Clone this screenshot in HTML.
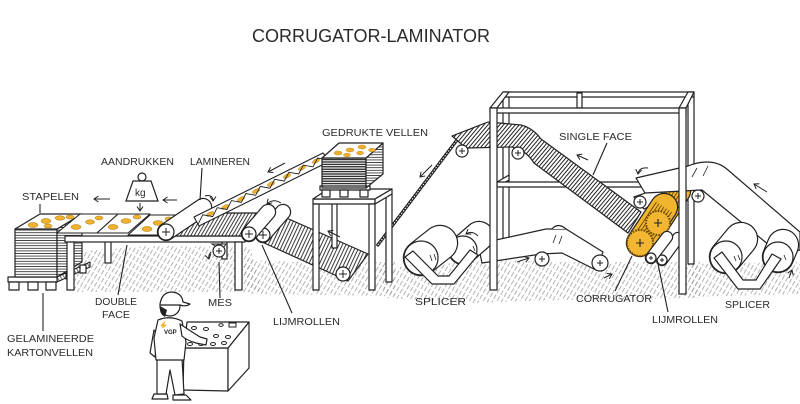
<!DOCTYPE html>
<html><head><meta charset="utf-8"><title>Corrugator-Laminator</title>
<style>
html,body{margin:0;padding:0;background:#fff;width:800px;height:404px;overflow:hidden}
svg{display:block}
text{font-family:"Liberation Sans",sans-serif;fill:#2b2b2b}
</style></head><body>
<svg xmlns="http://www.w3.org/2000/svg" width="800" height="404" viewBox="0 0 800 404">
<defs>
<pattern id="gr" width="4" height="7" patternUnits="userSpaceOnUse" patternTransform="rotate(30)"><line x1="1" y1="0" x2="1" y2="5" stroke="#9a9a9a" stroke-width="0.75"/></pattern>
<pattern id="st" width="3" height="3" patternUnits="userSpaceOnUse" patternTransform="rotate(40)"><rect width="3" height="3" fill="#fff"/><line x1="1" y1="0" x2="1" y2="3" stroke="#222" stroke-width="1"/></pattern>
<pattern id="st2" width="3" height="3" patternUnits="userSpaceOnUse" patternTransform="rotate(30)"><rect width="3" height="3" fill="#fff"/><line x1="1" y1="0" x2="1" y2="3" stroke="#222" stroke-width="0.9"/></pattern>
<pattern id="st3" width="3.2" height="3" patternUnits="userSpaceOnUse" patternTransform="rotate(25)"><rect width="3.2" height="3" fill="#fff"/><line x1="1" y1="0" x2="1" y2="3" stroke="#222" stroke-width="0.9"/></pattern>
<pattern id="hz" width="4" height="2.6" patternUnits="userSpaceOnUse"><rect width="4" height="2.6" fill="#fff"/><line x1="0" y1="1.3" x2="4" y2="1.3" stroke="#222" stroke-width="0.8"/></pattern>
<pattern id="hz2" width="4" height="2.4" patternUnits="userSpaceOnUse"><rect width="4" height="2.4" fill="#fff"/><line x1="0" y1="1.2" x2="4" y2="1.2" stroke="#111" stroke-width="1.2"/></pattern>
<pattern id="dg" width="3" height="3" patternUnits="userSpaceOnUse" patternTransform="rotate(-30)"><rect width="3" height="3" fill="#fff"/><line x1="1" y1="0" x2="1" y2="3" stroke="#444" stroke-width="0.8"/></pattern>
<marker id="ah" markerWidth="7" markerHeight="7" refX="5" refY="3.5" orient="auto" markerUnits="userSpaceOnUse"><path d="M0.5,0.5 L5,3.5 L0.5,6.5" fill="none" stroke="#222" stroke-width="1"/></marker>
</defs>

<!-- title -->
<text x="252" y="42" font-size="18" textLength="238" lengthAdjust="spacingAndGlyphs">CORRUGATOR-LAMINATOR</text>

<!-- ground hatching -->
<g fill="url(#gr)">
<polygon points="70,252 150,246 250,247 262,292 75,292"/>
<polygon points="240,260 300,262 395,262 395,296 250,294"/>
<polygon points="380,268 500,260 560,262 700,262 700,298 560,300 470,303 385,298"/>
<polygon points="690,264 800,262 800,294 690,297"/>
</g>

<g stroke="#222" stroke-width="1.2" fill="#fff" stroke-linejoin="round">
<!-- frame back -->
<rect x="688" y="96" width="6" height="168"/>
<rect x="503" y="96" width="6" height="150"/>
<rect x="503" y="92" width="191" height="5"/>
<polygon points="490,108 503,92 509,92 497,108"/>
<polygon points="679,108 688,92 694,92 686,108"/>
<rect x="577" y="93" width="5" height="15"/>
<rect x="490" y="108" width="196" height="5"/>
<polygon points="497,182 509,175 509,180 497,187"/>
<rect x="497" y="182" width="182" height="5"/>
</g>

<!-- thin web going down-left -->
<line x1="460" y1="136" x2="377" y2="246" stroke="#222" stroke-width="3.2"/>
<line x1="460" y1="136" x2="377" y2="246" stroke="#fff" stroke-width="1" stroke-dasharray="1.5 1.5"/>

<g stroke="#222" stroke-width="1.2" stroke-linejoin="round">
<!-- single face band -->
<path d="M452,136 L488,122 L521,125 Q533,128 541,139 L641,212 L628,233 L534,163 Q526,150 512,147 L466,148 Z" fill="url(#st)"/>
<!-- web from splicer to corrugator -->
<polygon points="478,244 546,229 566,229 603,252 596,270 562,253 541,254 482,263" fill="#fff"/>
<path d="M552,229 Q558,222 566,229" fill="#fff"/>
<path d="M556,235 l-3,8 M562,236 l-3,8" fill="none" stroke-width="0.8"/>
</g>
<g fill="#fff" stroke="#222" stroke-width="1.2">
<circle cx="462" cy="151" r="6"/><circle cx="518" cy="153" r="6"/>
<circle cx="542" cy="259" r="7"/><circle cx="600" cy="263" r="8"/>
</g>
<path d="M459,151h6M462,148v6 M515,153h6M518,150v6 M539,259h6M542,256v6 M597,263h6M600,260v6" stroke="#222" stroke-width="1"/>

<!-- splicer 1 -->
<line x1="463" y1="250" x2="479" y2="236" stroke="#222" stroke-width="30.4" stroke-linecap="round"/>
<line x1="463" y1="250" x2="479" y2="236" stroke="#fff" stroke-width="28" stroke-linecap="round"/>
<circle cx="463" cy="250" r="14" fill="#fff" stroke="#222" stroke-width="1.2"/>
<line x1="421" y1="258" x2="440" y2="243" stroke="#222" stroke-width="36.4" stroke-linecap="round"/>
<line x1="421" y1="258" x2="440" y2="243" stroke="#fff" stroke-width="34" stroke-linecap="round"/>
<circle cx="421" cy="258" r="17" fill="#fff" stroke="#222" stroke-width="1.2"/>
<path d="M478,236 q-6,-6 -12,-2" fill="none" stroke="#222" stroke-width="1" marker-end="url(#ah)"/>
<polygon points="405,257 413,251 438,276 449,276 470,250 478,255 454,284 432,284" fill="#fff" stroke="#222" stroke-width="1.2" stroke-linejoin="round"/>
<path d="M430,255 l2,6 M434,254 l2,6 M473,246 l2,5" stroke="#222" stroke-width="0.8"/>

<!-- corrugator -->
<g stroke="#222" stroke-width="1.2">
<polygon points="634,197 668,185 678,192 644,209" fill="#fff"/>
<circle cx="640" cy="202" r="6" fill="#fff"/>
</g>
<path d="M637,202h6M640,199v6" stroke="#222"/>
<line x1="658" y1="222" x2="678" y2="191" stroke="#222" stroke-width="26.4" stroke-linecap="round"/>
<line x1="658" y1="222" x2="678" y2="191" stroke="#f1b42e" stroke-width="24" stroke-linecap="round"/>
<g stroke="#5a3d00" stroke-width="0.8">
<line x1="650.4" y1="217.1" x2="670.4" y2="186.1"/><line x1="653" y1="218.7" x2="673" y2="187.7"/>
<line x1="655.5" y1="220.4" x2="675.5" y2="189.4"/><line x1="658" y1="222" x2="678" y2="191"/>
<line x1="660.5" y1="223.6" x2="680.5" y2="192.6"/><line x1="663" y1="225.3" x2="683" y2="194.3"/>
<line x1="665.6" y1="226.9" x2="685.6" y2="195.9"/>
</g>
<line x1="640" y1="243" x2="664" y2="207" stroke="#222" stroke-width="28.4" stroke-linecap="round"/>
<line x1="640" y1="243" x2="664" y2="207" stroke="#f1b42e" stroke-width="26" stroke-linecap="round"/>
<g stroke="#5a3d00" stroke-width="0.8">
<line x1="632.5" y1="238" x2="656.5" y2="202"/><line x1="635" y1="239.7" x2="659" y2="203.7"/>
<line x1="637.5" y1="241.3" x2="661.5" y2="205.3"/><line x1="640" y1="243" x2="664" y2="207"/>
<line x1="642.5" y1="244.7" x2="666.5" y2="208.7"/><line x1="645" y1="246.3" x2="669" y2="210.3"/>
<line x1="647.5" y1="248" x2="671.5" y2="212"/>
</g>
<circle cx="658" cy="223" r="12" fill="#f2b632" stroke="#6a4a00" stroke-width="2" stroke-dasharray="1.6 1.2"/>
<circle cx="640" cy="243" r="13" fill="#f2b632" stroke="#6a4a00" stroke-width="2" stroke-dasharray="1.6 1.2"/>
<path d="M654,223h8M658,219v8 M636,243h8M640,239v8" stroke="#222" stroke-width="1.1"/>
<!-- lijmrollen 2 -->
<line x1="662" y1="260" x2="678" y2="238" stroke="#222" stroke-width="12.4" stroke-linecap="round"/>
<line x1="662" y1="260" x2="678" y2="238" stroke="#fff" stroke-width="10" stroke-linecap="round"/>
<circle cx="662" cy="260" r="5" fill="#fff" stroke="#222" stroke-width="1.2"/>
<line x1="651" y1="258" x2="667" y2="237" stroke="#222" stroke-width="12.4" stroke-linecap="round"/>
<line x1="651" y1="258" x2="667" y2="237" stroke="#fff" stroke-width="10" stroke-linecap="round"/>
<circle cx="651" cy="258" r="5" fill="#fff" stroke="#222" stroke-width="1.2"/>
<path d="M649,258h4M651,256v4 M660,260h4M662,258v4" stroke="#222"/>

<!-- right belt -->
<path d="M636,178 L688,166 C700,161 716,159 728,170 L800,232 L800,250 L792,252 L775,250 L702,190 L645,193 Z" fill="#fff" stroke="#222" stroke-width="1.2" stroke-linejoin="round"/>
<path d="M697,168 l-5,9 M708,166 l-5,10" stroke="#222" stroke-width="0.8"/>
<circle cx="698" cy="196" r="6" fill="#fff" stroke="#222" stroke-width="1.2"/>
<path d="M695,196h6M698,193v6" stroke="#222"/>

<!-- splicer 2 -->
<line x1="778" y1="257" x2="783" y2="245" stroke="#222" stroke-width="32.4" stroke-linecap="round"/>
<line x1="778" y1="257" x2="783" y2="245" stroke="#fff" stroke-width="30" stroke-linecap="round"/>
<circle cx="778" cy="257" r="15" fill="#fff" stroke="#222" stroke-width="1.2"/>
<line x1="726" y1="257" x2="741" y2="239" stroke="#222" stroke-width="34.4" stroke-linecap="round"/>
<line x1="726" y1="257" x2="741" y2="239" stroke="#fff" stroke-width="32" stroke-linecap="round"/>
<circle cx="726" cy="257" r="16" fill="#fff" stroke="#222" stroke-width="1.2"/>
<polygon points="714,258 722,252 743,280 756,280 772,254 781,259 760,289 738,289" fill="#fff" stroke="#222" stroke-width="1.2" stroke-linejoin="round"/>
<path d="M734,256 l2,5 M738,255 l2,5 M784,255 l2,5" stroke="#222" stroke-width="0.8"/>

<!-- frame front posts -->
<g fill="#fff" stroke="#222" stroke-width="1.2">
<rect x="490" y="108" width="7" height="182"/>
<rect x="679" y="108" width="7" height="186"/>
</g>

<!-- LEFT: pallet & stack -->
<g stroke="#222" stroke-width="1.2" stroke-linejoin="round">
<polygon points="57,277 90,262 90,267 57,282" fill="url(#dg)"/>
<rect x="8" y="277" width="49" height="5" fill="#fff"/>
<rect x="9" y="282" width="10" height="8" fill="#fff"/>
<rect x="28" y="282" width="10" height="8" fill="#fff"/>
<rect x="46" y="282" width="10" height="8" fill="#fff"/>
<rect x="66" y="271" width="6" height="8" fill="#fff"/>
<rect x="80" y="265" width="6" height="8" fill="#fff"/>
<rect x="15" y="229" width="42" height="48" fill="url(#hz)"/>
<polygon points="57,229 82,214 82,262 57,277" fill="url(#hz)"/>
<polygon points="15,229 57,229 82,214 40,214" fill="#fff"/>
</g>

<!-- table -->
<g fill="#fff" stroke="#222" stroke-width="1.2">
<rect x="105" y="241" width="6" height="22"/>
<rect x="222" y="241" width="5" height="18"/>
<rect x="65" y="236" width="180" height="6"/>
<rect x="67" y="242" width="7" height="48"/>
<rect x="235" y="242" width="7" height="48"/>
</g>

<!-- striped belt on table -->
<polygon points="170,236 244,236 264,213 194,213" fill="url(#st2)" stroke="#222" stroke-width="1.2"/>

<!-- sheets on table -->
<g stroke="#222" stroke-width="1.1" fill="#fff" stroke-linejoin="round">
<polygon points="57,233 97,233 118,214 80,214"/>
<polygon points="97,233 128,233 150,214 118,214"/>
<polygon points="128,235 165,235 186,215 150,215"/>
</g>
<g fill="#f0b22c" stroke="#a87310" stroke-width="0.5">
<ellipse cx="33" cy="225" rx="5" ry="2.5"/><ellipse cx="46" cy="221" rx="5" ry="2.5"/><ellipse cx="60" cy="218" rx="5" ry="2.2"/><ellipse cx="48" cy="226" rx="4" ry="2"/><ellipse cx="70" cy="217" rx="4" ry="2"/>
<ellipse cx="76" cy="227" rx="5" ry="2.5"/><ellipse cx="90" cy="222" rx="4.5" ry="2.2"/><ellipse cx="99" cy="218" rx="4" ry="2"/>
<ellipse cx="113" cy="227" rx="5" ry="2.5"/><ellipse cx="126" cy="221" rx="5" ry="2.4"/><ellipse cx="137" cy="217" rx="4" ry="2"/>
<ellipse cx="147" cy="229" rx="5" ry="2.5"/><ellipse cx="158" cy="223" rx="5" ry="2.4"/><ellipse cx="169" cy="219" rx="4" ry="2"/>
</g>

<!-- laminating roller -->
<line x1="166" y1="232" x2="203" y2="207" stroke="#222" stroke-width="18.4" stroke-linecap="round"/>
<line x1="166" y1="232" x2="203" y2="207" stroke="#fff" stroke-width="16" stroke-linecap="round"/>
<circle cx="166" cy="232" r="8" fill="#fff" stroke="#222" stroke-width="1.2"/>
<path d="M162,232h8M166,228v8" stroke="#222"/>

<!-- kg weight -->
<g stroke="#222" stroke-width="1.2" fill="#fff">
<circle cx="142" cy="177" r="4"/>
<polygon points="133,181 151,181 158,201 126,201"/>
</g>
<text x="135" y="196" font-size="10">kg</text>

<!-- inclined ribbon of printed sheets -->
<polygon points="194,217 323,153 330,161 199,226" fill="#fff" stroke="#222" stroke-width="1.1" stroke-linejoin="round"/>
<g fill="#f0b22c" stroke="#a87310" stroke-width="0.4">
<ellipse cx="210" cy="214" rx="4" ry="1.8" transform="rotate(-27 210 214)"/>
<ellipse cx="225" cy="207" rx="4" ry="1.8" transform="rotate(-27 225 207)"/>
<ellipse cx="241" cy="199" rx="4" ry="1.8" transform="rotate(-27 241 199)"/>
<ellipse cx="256" cy="191" rx="4" ry="1.8" transform="rotate(-27 256 191)"/>
<ellipse cx="271" cy="184" rx="4" ry="1.8" transform="rotate(-27 271 184)"/>
<ellipse cx="287" cy="176" rx="4" ry="1.8" transform="rotate(-27 287 176)"/>
<ellipse cx="302" cy="168" rx="4" ry="1.8" transform="rotate(-27 302 168)"/>
<ellipse cx="316" cy="161" rx="4" ry="1.8" transform="rotate(-27 316 161)"/>
</g>
<path d="M198.3,223.7 L202.8,214.8 L212.7,216.6 L217.2,207.7 L227,209.5 L231.5,200.6 L241.3,202.4 L245.9,193.5 L255.7,195.3 L260.2,186.4 L270,188.2 L274.6,179.3 L284.3,181.1 L288.9,172.2 L298.7,174 L303.3,165.1 L313,166.9 L317.6,158 L327.4,159.8" fill="none" stroke="#222" stroke-width="0.9"/>

<!-- lower striped belt -->
<polygon points="262,242 282,216 368,254 348,281" fill="url(#st3)" stroke="#222" stroke-width="1.2" stroke-linejoin="round"/>
<circle cx="343" cy="274" r="7" fill="#fff" stroke="#222" stroke-width="1.2"/>
<path d="M339,274h8M343,270v8" stroke="#222"/>

<!-- lijmrollen 1 -->
<line x1="263" y1="235" x2="283" y2="212" stroke="#222" stroke-width="16.4" stroke-linecap="round"/>
<line x1="263" y1="235" x2="283" y2="212" stroke="#fff" stroke-width="14" stroke-linecap="round"/>
<circle cx="263" cy="235" r="7" fill="#fff" stroke="#222" stroke-width="1.2"/>
<line x1="249" y1="234" x2="268" y2="212" stroke="#222" stroke-width="16.4" stroke-linecap="round"/>
<line x1="249" y1="234" x2="268" y2="212" stroke="#fff" stroke-width="14" stroke-linecap="round"/>
<circle cx="249" cy="234" r="7" fill="#fff" stroke="#222" stroke-width="1.2"/>
<path d="M245,234h8M249,230v8 M259,235h8M263,231v8" stroke="#222"/>

<!-- MES roller -->
<polygon points="212,244 226,244 222,250" fill="#fff" stroke="#222" stroke-width="1"/>
<circle cx="219" cy="251" r="6" fill="#fff" stroke="#222" stroke-width="1.2"/>
<path d="M216,251h6M219,248v6" stroke="#222"/>

<!-- gedrukte vellen table -->
<g fill="#fff" stroke="#222" stroke-width="1.2" stroke-linejoin="round">
<rect x="332" y="203" width="5" height="45"/>
<rect x="386" y="193" width="6" height="89"/>
<rect x="313" y="199" width="62" height="5"/>
<polygon points="313,199 328,189 392,189 375,199"/>
<polygon points="375,199 392,189 392,194 375,204"/>
<rect x="313" y="204" width="6" height="86"/>
<rect x="369" y="204" width="6" height="86"/>
<rect x="320" y="186" width="50" height="4"/>
<rect x="322" y="190" width="8" height="7"/>
<rect x="340" y="190" width="8" height="7"/>
<rect x="360" y="190" width="8" height="7"/>
<rect x="322" y="158" width="44" height="30" fill="url(#hz2)"/>
<polygon points="366,158 383,143 383,174 366,188" fill="url(#hz)"/>
<polygon points="322,158 339,143 383,143 366,158"/>
</g>
<g fill="#f0b22c" stroke="#a87310" stroke-width="0.4">
<ellipse cx="338" cy="153" rx="4" ry="2"/><ellipse cx="350" cy="150" rx="4" ry="2"/><ellipse cx="362" cy="147" rx="4" ry="2"/>
<ellipse cx="347" cy="155" rx="3.5" ry="1.8"/><ellipse cx="360" cy="153" rx="3.5" ry="1.8"/><ellipse cx="372" cy="150" rx="3.5" ry="1.8"/>
</g>

<!-- control panel -->
<g fill="#fff" stroke="#222" stroke-width="1.2" stroke-linejoin="round">
<polygon points="184,348 228,348 228,391 183,390"/>
<polygon points="228,348 249,322 249,368 228,391"/>
<polygon points="184,348 187,322 249,322 228,348"/>
</g>
<g fill="#fff" stroke="#222" stroke-width="1">
<ellipse cx="194" cy="328" rx="2.5" ry="1.5"/><ellipse cx="206" cy="329" rx="2.5" ry="1.5"/><ellipse cx="221" cy="325" rx="2.2" ry="1.4"/>
<ellipse cx="216" cy="336" rx="2.5" ry="1.5"/><ellipse cx="228" cy="337" rx="2.5" ry="1.5"/>
<ellipse cx="190" cy="344" rx="2.5" ry="1.5"/><ellipse cx="201" cy="344" rx="2.5" ry="1.5"/><ellipse cx="213" cy="344" rx="2.5" ry="1.5"/><ellipse cx="224" cy="343" rx="2.5" ry="1.5"/>
<rect x="229" y="323" width="7" height="4"/>
</g>

<!-- operator -->
<g fill="#fff" stroke="#222" stroke-width="1.2" stroke-linejoin="round">
<path d="M154,394 L167,394 L168,399 L152,399 Z"/>
<path d="M173,395 L186,395 L191,400 L173,400 Z"/>
<path d="M157,358 L182,358 L184,394 L175,395 L170,370 L166,394 L157,394 Z"/>
<path d="M154,330 L150,353 L155,357 L159,336 Z"/>
<path d="M158,320 Q170,315 182,321 L186,342 L184,360 L156,360 L154,338 Z"/>
<path d="M180,324 Q192,332 200,337 L207,339 L206,345 L196,343 Q186,340 182,336 Z"/>
<circle cx="170" cy="306" r="10"/>
<path d="M160,304 Q162,292 172,292 Q182,293 183,302 L190,304 Q186,307 180,305 L160,305 Z"/>
</g>
<path d="M160,306 Q159,314 165,317 L167,310 Z" fill="#222"/>
<path d="M161,326 l3,-3 l-1,4 l3,-2" fill="none" stroke="#f0b22c" stroke-width="1.5"/>
<text x="164" y="334" font-size="6" font-weight="bold" style="fill:#222">VGP</text>

<!-- pointer lines -->
<g stroke="#222" stroke-width="1.1" fill="none">
<line x1="40" y1="204" x2="40" y2="213"/>
<line x1="202" y1="168" x2="200" y2="200"/>
<line x1="127" y1="245" x2="118" y2="295"/>
<line x1="219" y1="262" x2="220" y2="298"/>
<line x1="262" y1="245" x2="292" y2="313"/>
<line x1="43" y1="293" x2="43" y2="331"/>
<line x1="607" y1="143" x2="593" y2="175"/>
<line x1="632" y1="256" x2="615" y2="291"/>
<line x1="658" y1="264" x2="668" y2="312"/>
</g>

<!-- motion arrows -->
<g stroke="#222" stroke-width="1" fill="none" marker-end="url(#ah)">
<path d="M110,199 L94,199"/>
<path d="M177,200 L163,200"/>
<path d="M140,203 L140,211"/>
<path d="M205,196 Q213,194 213,201"/>
<path d="M211,252 Q208,255 209,259"/>
<path d="M285,163 L268,172"/>
<path d="M281,203 Q273,198 267,204"/>
<path d="M340,237 L328,231"/>
<path d="M432,165 L420,177"/>
<path d="M517,262 L529,258"/>
<path d="M588,160 L577,155"/>
<path d="M648,168 Q639,167 638,174"/>
<path d="M767,192 L754,184"/>
<path d="M789,278 L792,270"/>
<path d="M604,278 L612,274"/>
</g>

<!-- labels -->
<g font-size="10">
<text x="22" y="200" textLength="57" lengthAdjust="spacingAndGlyphs">STAPELEN</text>
<text x="101" y="165" textLength="73" lengthAdjust="spacingAndGlyphs">AANDRUKKEN</text>
<text x="190" y="165" textLength="60" lengthAdjust="spacingAndGlyphs">LAMINEREN</text>
<text x="322" y="136" textLength="106" lengthAdjust="spacingAndGlyphs">GEDRUKTE VELLEN</text>
<text x="559" y="140" textLength="73" lengthAdjust="spacingAndGlyphs">SINGLE FACE</text>
<text x="95" y="305" textLength="42" lengthAdjust="spacingAndGlyphs">DOUBLE</text>
<text x="102" y="318" textLength="28" lengthAdjust="spacingAndGlyphs">FACE</text>
<text x="208" y="306" textLength="24" lengthAdjust="spacingAndGlyphs">MES</text>
<text x="273" y="325" textLength="67" lengthAdjust="spacingAndGlyphs">LIJMROLLEN</text>
<text x="7" y="342" textLength="87" lengthAdjust="spacingAndGlyphs">GELAMINEERDE</text>
<text x="7" y="356" textLength="86" lengthAdjust="spacingAndGlyphs">KARTONVELLEN</text>
<text x="415" y="305" textLength="51" lengthAdjust="spacingAndGlyphs">SPLICER</text>
<text x="576" y="302" textLength="76" lengthAdjust="spacingAndGlyphs">CORRUGATOR</text>
<text x="652" y="323" textLength="66" lengthAdjust="spacingAndGlyphs">LIJMROLLEN</text>
<text x="725" y="308" textLength="45" lengthAdjust="spacingAndGlyphs">SPLICER</text>
</g>
</svg>
</body></html>
